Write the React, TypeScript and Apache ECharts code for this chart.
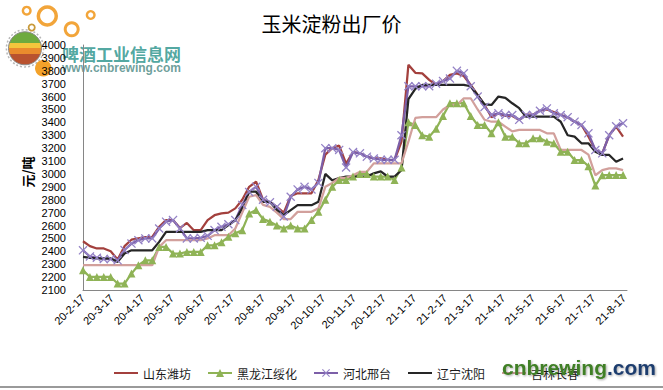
import React, { useEffect, useRef } from "react";
import * as echarts from "echarts";

// ---- data ----
const START = Date.UTC(2020, 1, 17);
const DAY_MS = 86400000;
const STEP_DAYS = 7; // weekly readings starting 2020-02-17

const tickLabels = [
  "20-2-17", "20-3-17", "20-4-17", "20-5-17", "20-6-17", "20-7-17", "20-8-17",
  "20-9-17", "20-10-17", "20-11-17", "20-12-17", "21-1-17", "21-2-17", "21-3-17",
  "21-4-17", "21-5-17", "21-6-17", "21-7-17", "21-8-17",
];

const seriesNames = ["山东潍坊", "黑龙江绥化", "河北邢台", "辽宁沈阳", "吉林长春"];

const shandong = [
  2478, 2440, 2422, 2422, 2400, 2336, 2440, 2490, 2500, 2510,
  2512, 2590, 2642, 2642, 2580, 2620, 2564, 2564, 2642, 2680,
  2694, 2700, 2733, 2800, 2900, 2940, 2800, 2780, 2745, 2700,
  2830, 2850, 2850, 2850, 2953, 3150, 3200, 3220, 3080, 3170,
  3160, 3134, 3120, 3120, 3110, 3108, 3250, 3846, 3784, 3780,
  3730, 3690, 3720, 3768, 3780, 3760, 3690, 3613, 3535, 3440,
  3470, 3450, 3450, 3420, 3460, 3460, 3490, 3500, 3480, 3457,
  3440, 3405, 3380, 3290, 3186, 3160, 3300, 3367, 3290,
];

const heilongjiang = [
  2253, 2201, 2201, 2201, 2201, 2150, 2150, 2227, 2292, 2330,
  2330, 2434, 2434, 2383, 2383, 2395, 2395, 2395, 2447, 2447,
  2470, 2512, 2540, 2564, 2694, 2720, 2650, 2630, 2600, 2577,
  2600, 2577, 2577, 2642, 2706, 2800, 2900, 2953, 2953, 2980,
  3000, 3000, 2980, 2980, 2980, 2953, 3050, 3400, 3380, 3300,
  3289, 3350, 3450, 3549, 3549, 3549, 3450, 3380, 3380, 3315,
  3400, 3289, 3289, 3238, 3238, 3276, 3276, 3250, 3238, 3172,
  3172, 3108, 3108, 3060, 2910, 2990, 2991, 2991, 2991,
];

const hebei = [
  2408, 2360, 2350, 2340, 2340, 2330, 2410, 2460, 2486, 2500,
  2500, 2577, 2630, 2642, 2577, 2500, 2500, 2505, 2520, 2565,
  2590, 2610, 2642, 2760, 2860, 2900, 2800, 2780, 2745, 2670,
  2823, 2880, 2900, 2880, 2930, 3200, 3200, 3186, 3050, 3170,
  3160, 3134, 3120, 3110, 3110, 3110, 3300, 3680, 3680, 3680,
  3680, 3700, 3720, 3740, 3800, 3780, 3680, 3600, 3520, 3457,
  3470, 3457, 3457, 3420, 3457, 3457, 3490, 3508, 3470, 3457,
  3440, 3405, 3380, 3315, 3186, 3160, 3300, 3370, 3393,
];

const liaoning = [
  2357, 2350, 2345, 2345, 2345, 2318, 2383, 2408, 2408, 2408,
  2408, 2473, 2551, 2551, 2551, 2551, 2551, 2551, 2564, 2564,
  2564, 2603, 2640, 2733, 2862, 2862, 2784, 2784, 2720, 2680,
  2720, 2758, 2758, 2758, 2784, 3000, 2950, 2968, 2980, 2980,
  2980, 2980, 3005, 3020, 2980, 2980, 3030, 3580, 3660, 3690,
  3690, 3690, 3690, 3690, 3690, 3690, 3680, 3610, 3540, 3535,
  3600, 3590, 3548, 3510, 3444, 3444, 3444, 3444, 3444, 3405,
  3300, 3289, 3238, 3238, 3172, 3147, 3147, 3095, 3120,
];

const jilin = [
  2292, 2292, 2292, 2292, 2292, 2292, 2292, 2292, 2292, 2292,
  2292, 2434, 2486, 2486, 2486, 2486, 2486, 2486, 2500, 2525,
  2525, 2525, 2577, 2700, 2823, 2836, 2760, 2745, 2700, 2650,
  2650, 2706, 2706, 2706, 2733, 2900, 2930, 2970, 2970, 2990,
  3017, 3017, 3082, 3082, 3082, 3082, 3082, 3250, 3434, 3440,
  3440, 3440, 3500, 3535, 3535, 3587, 3587, 3500, 3420, 3405,
  3405, 3367, 3330, 3341, 3341, 3341, 3341, 3315, 3315, 3186,
  3186, 3186, 3186, 3150, 2990, 3030, 3043, 3043, 3030,
];

// ---- helpers ----
function labelToDay(s: string): number {
  const [y, m, d] = s.split("-").map(Number);
  return Math.round((Date.UTC(2000 + y, m - 1, d) - START) / DAY_MS);
}
const tickDays = tickLabels.map(labelToDay);
const dayLabel = new Map<number, string>(tickDays.map((d, i) => [d, tickLabels[i]]));
const toPairs = (vals: number[]) => vals.map((v, i) => [i * STEP_DAYS, v]);

const CROSS = "path://M0,1L1,0L5,4L9,0L10,1L6,5L10,9L9,10L5,6L1,10L0,9L4,5Z";

export default function App() {
  const ref = useRef<HTMLDivElement>(null);
  useEffect(() => {
    if (!ref.current) return;
    const chart = echarts.init(ref.current, undefined, { renderer: "svg" });
    const orange = "#F2A53A";
    const ballFill = {
      type: "linear", x: 0, y: 0, x2: 0, y2: 1,
      colorStops: [
        { offset: 0, color: "#6EAA3E" }, { offset: 0.34, color: "#6EAA3E" },
        { offset: 0.34, color: "#F4C63C" }, { offset: 0.5, color: "#F4C63C" },
        { offset: 0.5, color: "#EA8B2D" }, { offset: 0.68, color: "#EA8B2D" },
        { offset: 0.68, color: "#B9522F" }, { offset: 1, color: "#B9522F" },
      ],
    };
    const noDot = { opacity: 0 };
    const option: any = {
      animation: false,
      backgroundColor: "#ffffff",
      title: {
        text: "玉米淀粉出厂价",
        left: "center",
        top: 8,
        textStyle: { fontSize: 20, fontWeight: "normal", color: "#000", fontFamily: "Noto Sans CJK SC" },
      },
      legend: {
        left: 108,
        top: 362,
        itemWidth: 24,
        itemHeight: 10,
        itemGap: 16,
        textStyle: { fontSize: 12, color: "#1a1a1a", fontFamily: "Noto Sans CJK SC" },
        data: [
          { name: seriesNames[0], itemStyle: noDot },
          { name: seriesNames[1] },
          { name: seriesNames[2] },
          { name: seriesNames[3], itemStyle: noDot },
          { name: seriesNames[4], itemStyle: noDot },
        ],
      },
      grid: { left: 83, right: 36, top: 45, bottom: 100 },
      xAxis: {
        type: "value",
        min: 0,
        max: 550,
        axisLine: { show: true, lineStyle: { color: "#868686", width: 1 } },
        axisTick: { show: false },
        splitLine: { show: false },
        axisLabel: {
          customValues: tickDays,
          formatter: (v: number) => dayLabel.get(Math.round(v)) ?? "",
          rotate: 45,
          margin: 6,
          fontSize: 11,
          color: "#000",
          fontFamily: "Liberation Sans",
        },
      },
      yAxis: {
        type: "value",
        min: 2100,
        max: 4000,
        interval: 100,
        axisLine: { show: true, lineStyle: { color: "#868686", width: 1 } },
        axisTick: { show: false },
        splitLine: { show: false },
        axisLabel: {
          fontSize: 11, color: "#000", margin: 17, fontFamily: "Liberation Sans",
          formatter: (v: number) => String(v),
        },
      },
      series: [
        {
          name: seriesNames[0], type: "line", data: toPairs(shandong),
          symbol: "none", lineStyle: { color: "#A3403D", width: 2.25 }, itemStyle: { color: "#A3403D" },
        },
        {
          name: seriesNames[1], type: "line", data: toPairs(heilongjiang),
          symbol: "triangle", symbolSize: 8, showSymbol: true,
          lineStyle: { color: "#8FB356", width: 2.25 }, itemStyle: { color: "#8FB356" },
        },
        {
          name: seriesNames[2], type: "line", data: toPairs(hebei),
          symbol: CROSS, symbolSize: 9, showSymbol: true,
          lineStyle: { color: "#7C5FA8", width: 2.25 }, itemStyle: { color: "#9482C6" },
        },
        {
          name: seriesNames[3], type: "line", data: toPairs(liaoning),
          symbol: "none", lineStyle: { color: "#262626", width: 2.25 }, itemStyle: { color: "#262626" },
        },
        {
          name: seriesNames[4], type: "line", data: toPairs(jilin),
          symbol: "none", lineStyle: { color: "#D2A09C", width: 2.25 }, itemStyle: { color: "#D2A09C" },
        },
      ],
      graphic: [
        // top-left logo
        { type: "ring", z: -10, shape: { cx: 26.7, cy: 10.7, r: 5, r0: 2.6 }, style: { fill: orange } },
        { type: "ring", z: -10, shape: { cx: 47.3, cy: 16, r: 10.7, r0: 7.2 }, style: { fill: orange } },
        { type: "ring", z: -10, shape: { cx: 71.7, cy: 29.3, r: 8, r0: 5 }, style: { fill: orange } },
        { type: "ring", z: -10, shape: { cx: 90.7, cy: 15, r: 5, r0: 2.6 }, style: { fill: orange } },
        { type: "circle", z: -10, shape: { cx: 25, cy: 48.3, r: 18.6 }, style: { fill: "none", stroke: "#b8b8b8", lineWidth: 1.5, lineDash: [2, 2] } },
        { type: "circle", z: -10, shape: { cx: 25, cy: 48.3, r: 16.5 }, style: { fill: ballFill, stroke: "#8a8a8a", lineWidth: 1 } },
        { type: "ring", z: -10, shape: { cx: 31.7, cy: 27.5, r: 4, r0: 2.2 }, style: { fill: "#C89A3A" } },
        { type: "circle", z: -10, shape: { cx: 43.3, cy: 68.3, r: 8.3 }, style: { fill: "#F3A22A" } },
        {
          type: "text", z: -10, x: 62, y: 53,
          style: { text: "啤酒工业信息网", fill: "#3C9C95", font: "bold 17px 'Noto Sans CJK SC'", textVerticalAlign: "middle", opacity: 0.9 },
        },
        {
          type: "text", z: -10, x: 62, y: 68,
          style: { text: "www.cnbrewing.com", fill: "#5C948F", font: "bold 12px 'Liberation Sans'", textVerticalAlign: "middle", opacity: 0.9 },
        },
        // y axis name
        {
          type: "text", x: 27, y: 172, rotation: Math.PI / 2,
          style: { text: "元/吨", fill: "#000", font: "bold 13px 'Noto Sans CJK SC'", textAlign: "center", textVerticalAlign: "middle" },
        },
        // bottom border line
        { type: "line", z: 50, shape: { x1: 0, y1: 387, x2: 663, y2: 387 }, style: { stroke: "#9a9a9a", lineWidth: 2 } },
        // watermark
        {
          type: "text", z: 100, x: 502, y: 367,
          style: {
            text: "{a|cnbrewing}{b|.com}",
            textVerticalAlign: "middle",
            rich: {
              a: { fill: "#3F7F25", font: "bold 21px 'Liberation Sans'", textShadowColor: "rgba(0,0,0,0.35)", textShadowBlur: 2, textShadowOffsetX: 1, textShadowOffsetY: 1 },
              b: { fill: "#1F3C6E", font: "bold 21px 'Liberation Sans'", textShadowColor: "rgba(0,0,0,0.35)", textShadowBlur: 2, textShadowOffsetX: 1, textShadowOffsetY: 1 },
            },
          },
        },
      ],
    };
    chart.setOption(option);
    return () => chart.dispose();
  }, []);
  return (
    <div
      ref={ref}
      style={{ position: "fixed", left: 0, top: 0, width: 663, height: 390, background: "#fff" }}
    />
  );
}
